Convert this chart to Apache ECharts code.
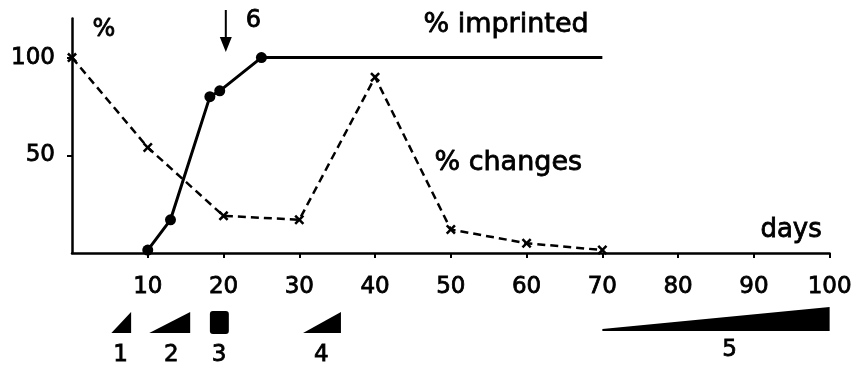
<!DOCTYPE html>
<html><head><meta charset="utf-8">
<script src="https://cdn.jsdelivr.net/npm/echarts@6/dist/echarts.min.js"></script>
<style>html,body{margin:0;padding:0;background:#fff}#c{width:855px;height:367px}</style>
</head><body><div id="c"></div>
<script>
// ---- data ----
const imprintedDays = [10, 13, 18.2, 19.5, 25, 70];
const imprintedPct  = [1.5, 17, 80, 83, 100, 100];
const changesDays = [0, 10, 20, 30, 40, 50, 60, 70];
const changesPct  = [100, 54, 19, 17, 90, 12, 5, 1.5];
const xTicks = [10, 20, 30, 40, 50, 60, 70, 80, 90, 100];
const yTicks = [50, 100];
const treatStart  = [5.2, 10.2, 18.2, 30.5, 70];
const treatEnd    = [7.8, 15.6, 20.7, 35.5, 100];
const treatShape  = ['wedge', 'wedge', 'block', 'wedge', 'wedge'];
const treatLabels = ['1', '2', '3', '4', '5'];
const treatLabelX = [6.4, 13.1, 19.4, 32.9, 86.8];
const arrowDay = 20.3;
const arrowLabel = '6';

const FONT = 'DejaVu Sans';
const INK = '#000';
const TB = 0.8; // text stroke to mimic the heavier print
const a = 1.8;
const crossPath = 'path://M0,' + a + ' L' + a + ',0 L5,' + (5 - a) + ' L' + (10 - a) + ',0 L10,' + a +
  ' L' + (5 + a) + ',5 L10,' + (10 - a) + ' L' + (10 - a) + ',10 L5,' + (5 + a) + ' L' + a + ',10 L0,' + (10 - a) +
  ' L' + (5 - a) + ',5 Z';
const arrowPath = 'path://M5,0 L7,0 L7,27 L12,27 L6,42 L0,27 L5,27 Z';
const txt = (text, left, top, size) => ({
  type: 'text', left, top,
  style: {text, font: size + 'px "DejaVu Sans"', fill: INK, stroke: INK, lineWidth: TB}
});

const chart = echarts.init(document.getElementById('c'), null, {renderer: 'canvas'});
chart.setOption({
  animation: false,
  backgroundColor: '#fff',
  grid: {left: 72, right: 18, top: 18.5, bottom: 114, containLabel: false},
  xAxis: {
    type: 'value', min: 0, max: 100, interval: 10,
    axisLine: {show: true, lineStyle: {color: INK, width: 2.5}},
    axisTick: {show: true, length: 5, customValues: xTicks, lineStyle: {color: INK, width: 2}},
    splitLine: {show: false},
    axisLabel: {
      margin: 23, color: INK, fontFamily: FONT, fontSize: 23, customValues: xTicks,
      textBorderColor: INK, textBorderWidth: TB
    }
  },
  yAxis: {
    type: 'value', min: 0, max: 120, interval: 50,
    axisLine: {show: true, lineStyle: {color: INK, width: 2.5}},
    axisTick: {show: true, length: 5, customValues: yTicks, lineStyle: {color: INK, width: 2}},
    splitLine: {show: false},
    axisLabel: {
      margin: 17, color: INK, fontFamily: FONT, fontSize: 23, customValues: yTicks,
      textBorderColor: INK, textBorderWidth: TB
    }
  },
  graphic: [
    txt('%', 92, 17, 24),
    txt('% imprinted', 423, 11, 27),
    txt('% changes', 434, 149, 27),
    txt('days', 760, 217, 26)
  ],
  series: [
    {
      name: '% imprinted', type: 'line',
      data: imprintedDays.map((d, i) => [d, imprintedPct[i]]),
      lineStyle: {color: INK, width: 3},
      itemStyle: {color: INK},
      symbol: (v, p) => p.dataIndex === imprintedDays.length - 1 ? 'none' : 'circle',
      symbolSize: 11, showSymbol: true,
      markPoint: {
        symbol: arrowPath, symbolSize: [12, 42],
        itemStyle: {color: INK},
        label: {show: true, formatter: arrowLabel, position: 'right', offset: [9, -10], color: INK, fontFamily: FONT, fontSize: 24,
                textBorderColor: INK, textBorderWidth: TB},
        data: [{coord: [arrowDay, 113.6]}]
      },
      z: 3
    },
    {
      name: '% changes', type: 'line',
      data: changesDays.map((d, i) => [d, changesPct[i]]),
      lineStyle: {color: INK, width: 2.5, type: [8, 5]},
      itemStyle: {color: INK},
      symbol: crossPath, symbolSize: 10, showSymbol: true,
      z: 2
    },
    {
      name: 'treatments', type: 'custom', clip: false, silent: true,
      data: treatStart.map((s, i) => [s, treatEnd[i], treatLabelX[i], i]),
      encode: {x: [0, 1]},
      renderItem: (params, api) => {
        const i = api.value(3);
        const s = api.coord([api.value(0), 0]);
        const e = api.coord([api.value(1), 0]);
        const lx = api.coord([api.value(2), 0])[0];
        const long = (treatEnd[i] - treatStart[i]) > 20;
        const bottom = s[1] + (long ? 78 : 80);
        const h = long ? 24 : 21;
        let shape;
        if (treatShape[i] === 'block') {
          shape = {type: 'rect', shape: {x: s[0], y: bottom - 22, width: e[0] - s[0], height: 23, r: 3}, style: {fill: INK}};
        } else {
          shape = {type: 'polygon', shape: {points: [[s[0], bottom], [s[0], bottom - (long ? 2 : 0)], [e[0], bottom - h], [e[0], bottom]]}, style: {fill: INK}};
        }
        return {
          type: 'group',
          children: [
            shape,
            {type: 'text', style: {text: treatLabels[i], x: lx, y: s[1] + (long ? 97 : 102), align: 'center', verticalAlign: 'middle',
              font: '23px "DejaVu Sans"', fill: INK, stroke: INK, lineWidth: TB}}
          ]
        };
      }
    }
  ]
});
</script></body></html>
